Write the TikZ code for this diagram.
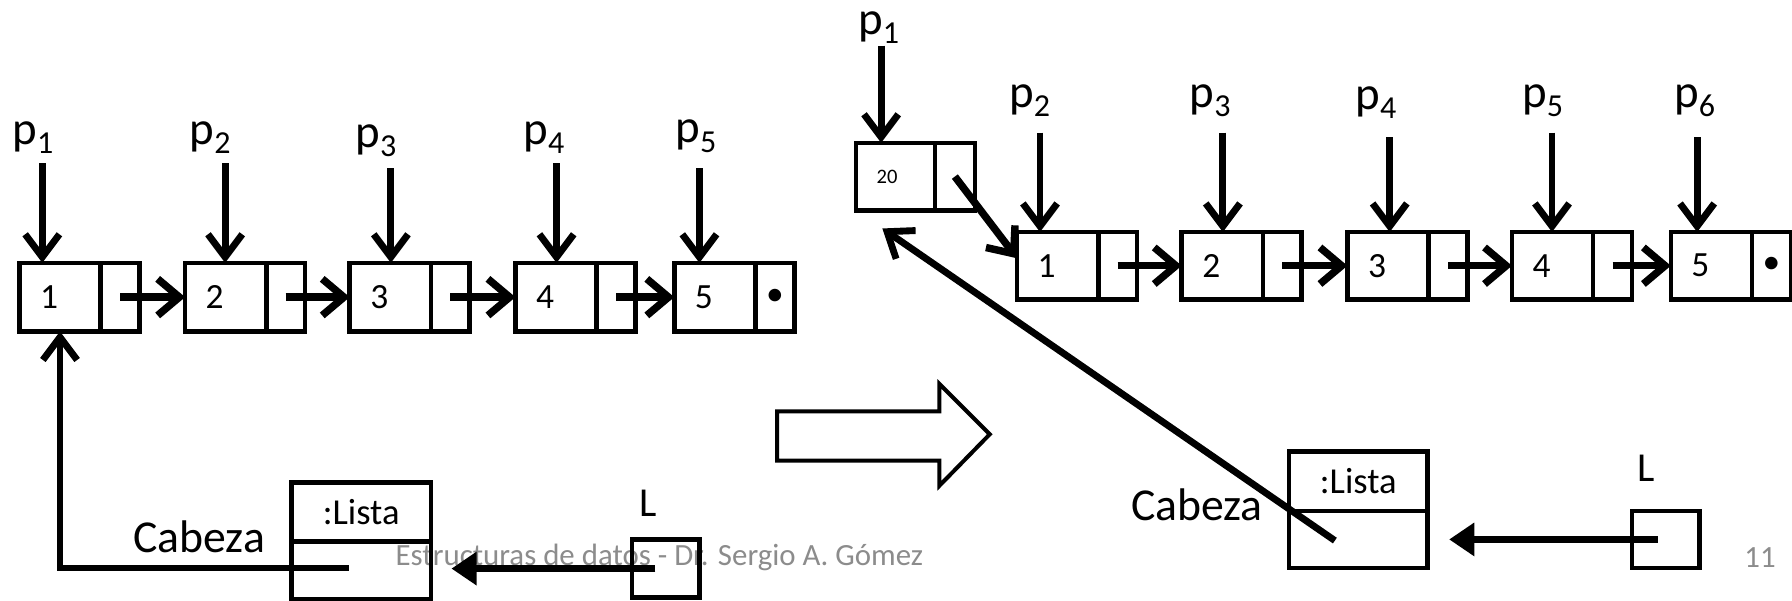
\documentclass[tikz,border=0pt]{standalone}
\usepackage{fontspec}
\setmainfont{Carlito}
\usetikzlibrary{arrows.meta}
\newcommand\psub[1]{p\raisebox{-8pt}{\fontsize{28}{28}\selectfont #1}}
\begin{document}
\begin{tikzpicture}[x=1pt,y=-1pt,
  every node/.style={inner sep=0pt, outer sep=0pt},
  dcell/.style={draw, line width=4pt, inner xsep=18pt, text width=35pt, align=left, minimum width=71pt, minimum height=60pt, anchor=north west, font=\fontsize{31}{33}\selectfont},
  pcell/.style={draw, line width=4pt, minimum width=34pt, minimum height=60pt, anchor=west, font=\fontsize{31}{33}\selectfont},
  plab/.style={anchor=base west, font=\fontsize{41}{44}\selectfont},
  big/.style={font=\fontsize{40}{44}\selectfont},
  parr/.style={line width=6pt, -{Straight Barb[length=20pt,width=30pt,line width=6pt]}},
  narr/.style={line width=6.5pt, -{Straight Barb[length=19pt,width=32pt,line width=6.5pt]}},
  harr/.style={line width=6pt, -{Straight Barb[length=20pt,width=30pt,line width=6pt]}},
  larr/.style={line width=6pt, -{Triangle[length=22pt,width=28pt]}},
  objbox/.style={draw, line width=4pt, anchor=north west},
  foot/.style={text=black!45, font=\fontsize{27}{30}\selectfont}
]
\useasboundingbox (0,0) rectangle (1568,525);

% footer text (under the lines)
\node[foot] (footer) at (577,488) {Estructuras de datos - Dr. Sergio A. Gómez};
\node[foot] (pagenum) at (1540,488) {11};

% ===== left list =====
\node[dcell] (a1) at (17,230) {1};   \node[pcell] (a1p) at (a1.east) {};
\node[dcell] (a2) at (162,230) {2};  \node[pcell] (a2p) at (a2.east) {};
\node[dcell] (a3) at (306,230) {3};  \node[pcell] (a3p) at (a3.east) {};
\node[dcell] (a4) at (451,230) {4};  \node[pcell] (a4p) at (a4.east) {};
\node[dcell] (a5) at (590,230) {5};  \node[pcell] (a5p) at (a5.east) {\textbullet};

\draw[narr] (a1p.center) -- (a2.west);
\draw[narr] (a2p.center) -- (a3.west);
\draw[narr] (a3p.center) -- (a4.west);
\draw[narr] (a4p.center) -- (a5.west);

\node[plab] (lp1) at (11,126) {\psub{1}};
\node[plab] (lp2) at (166,126) {\psub{2}};
\node[plab] (lp3) at (311,129) {\psub{3}};
\node[plab] (lp4) at (458,126) {\psub{4}};
\node[plab] (lp5) at (591,125) {\psub{5}};
\coordinate (lt1) at (37,143);
\coordinate (lt2) at (197,143);
\coordinate (lt3) at (342,147);
\coordinate (lt4) at (487,143);
\coordinate (lt5) at (612,147);
\draw[parr] (lt1) -- (lt1 |- a1.north);
\draw[parr] (lt2) -- (lt2 |- a2.north);
\draw[parr] (lt3) -- (lt3 |- a3.north);
\draw[parr] (lt4) -- (lt4 |- a4.north);
\draw[parr] (lt5) -- (lt5 |- a5.north);

% left Lista object
\node[objbox, minimum width=122pt, minimum height=52pt, font=\fontsize{32}{34}\selectfont] (lista1) at (255,422) {:Lista};
\node[objbox, minimum width=122pt, minimum height=50pt] (lista1b) at (lista1.south west) {};
\node[big, anchor=base east] (cab1) at (232,483) {Cabeza};
\node[objbox, minimum width=59pt, minimum height=51pt] (lv1) at (553,472) {};
\node[big, font=\fontsize{36}{40}\selectfont] (lname1) at (567,440) {L};
\coordinate (c1) at (305,497);
\draw[harr] (c1) -| (a1.south);
\draw[larr, shorten >=18pt] ([xshift=-9pt]lv1.center) -- (lista1b.east |- lv1.center);

% big hollow arrow
\draw[line width=3.5pt, line join=miter] (680,360) -- (822,360) -- (822,336) -- (866,380) -- (822,425) -- (822,403) -- (680,403) -- cycle;

% ===== right list =====
\node[dcell, text width=33pt, minimum width=69pt, minimum height=59pt, font=\fontsize{18}{20}\selectfont] (b0) at (749,125) {20};
\node[pcell, minimum width=35pt, minimum height=59pt] (b0p) at (b0.east) {};

\node[dcell, minimum height=59pt] (b1) at (890,203) {1};   \node[pcell, minimum height=59pt] (b1p) at (b1.east) {};
\node[dcell, minimum height=59pt] (b2) at (1034,203) {2};  \node[pcell, minimum height=59pt] (b2p) at (b2.east) {};
\node[dcell, minimum height=59pt] (b3) at (1179,203) {3};  \node[pcell, minimum height=59pt] (b3p) at (b3.east) {};
\node[dcell, minimum height=59pt] (b4) at (1323,203) {4};  \node[pcell, minimum height=59pt] (b4p) at (b4.east) {};
\node[dcell, minimum height=59pt] (b5) at (1462,203) {5};  \node[pcell, minimum height=59pt] (b5p) at (b5.east) {\textbullet};

\draw[narr] (b0p.center) -- ([yshift=-23pt]b1.north west);
\draw[narr] (b1p.center) -- (b2.west);
\draw[narr] (b2p.center) -- (b3.west);
\draw[narr] (b3p.center) -- (b4.west);
\draw[narr] (b4p.center) -- (b5.west);

\node[plab] (rp1) at (751,30) {\psub{1}};
\node[plab] (rp2) at (883,94) {\psub{2}};
\node[plab] (rp3) at (1041,94) {\psub{3}};
\node[plab] (rp4) at (1186,96) {\psub{4}};
\node[plab] (rp5) at (1332,94) {\psub{5}};
\node[plab] (rp6) at (1465,94) {\psub{6}};
\coordinate (rt1) at (771,40);
\coordinate (rt2) at (910,116);
\coordinate (rt3) at (1070,116);
\coordinate (rt4) at (1216,120);
\coordinate (rt5) at (1358,116);
\coordinate (rt6) at (1485,120);
\draw[parr] (rt1) -- (rt1 |- b0.north);
\draw[parr] (rt2) -- (rt2 |- b1.north);
\draw[parr] (rt3) -- (rt3 |- b2.north);
\draw[parr] (rt4) -- (rt4 |- b3.north);
\draw[parr] (rt5) -- (rt5 |- b4.north);
\draw[parr] (rt6) -- (rt6 |- b5.north);

% right Lista object
\node[objbox, minimum width=121pt, minimum height=52pt, font=\fontsize{32}{34}\selectfont] (lista2) at (1128,395) {:Lista};
\node[objbox, minimum width=121pt, minimum height=50pt] (lista2b) at (lista2.south west) {};
\node[big, anchor=base east] (cab2) at (1105,455) {Cabeza};
\node[objbox, minimum width=59pt, minimum height=50pt] (lv2) at (1428,447) {};
\node[big, font=\fontsize{36}{40}\selectfont] (lname2) at (1440,410) {L};
\coordinate (c2) at (1168,473);
\draw[harr, shorten >=28pt] (c2) -- (b0.south west);
\draw[larr, shorten >=19pt] ([xshift=-7pt]lv2.center) -- (lista2b.east |- lv2.center);
\end{tikzpicture}
\end{document}
